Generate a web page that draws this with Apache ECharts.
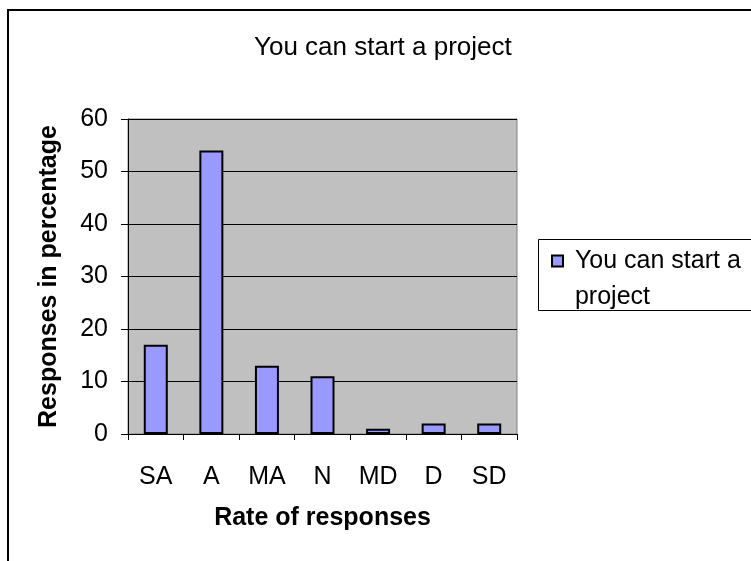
<!DOCTYPE html>
<html>
<head>
<meta charset="utf-8">
<script src="https://cdn.jsdelivr.net/npm/echarts@6/dist/echarts.min.js"></script>
<style>
  html, body { margin: 0; padding: 0; background: #fff; }
  #chart { width: 751px; height: 561px; }
</style>
</head>
<body>
<div id="chart"></div>
<script>
var categories = ['SA', 'A', 'MA', 'N', 'MD', 'D', 'SD'];
var values = [17, 54, 13, 11, 1, 2, 2];
var seriesName = 'You can start a project';
var yTicks = { min: 0, max: 60, interval: 10 };

var font = 'Liberation Sans, Arial, sans-serif';
var chart = echarts.init(document.getElementById('chart'));

chart.setOption({
    backgroundColor: '#fff',
    textStyle: { fontFamily: font },
    title: {
        text: seriesName,
        left: 254,
        top: 35,
        padding: 0,
        textStyle: { fontSize: 26, fontWeight: 'normal', color: '#000', fontFamily: font }
    },
    grid: {
        left: 128, top: 119, width: 389, height: 315,
        show: true, backgroundColor: '#c0c0c0', borderColor: '#808080', borderWidth: 1
    },
    legend: {
        data: [seriesName],
        left: 551,
        top: 207,
        padding: 0,
        icon: 'rect',
        itemWidth: 11,
        itemHeight: 11,
        itemGap: 0,
        // empty first line keeps the first text line level with the swatch
        formatter: function () { return ' \n You can start a\n project'; },
        textStyle: { fontSize: 25, color: '#000', lineHeight: 36, fontFamily: font }
    },
    xAxis: {
        type: 'category',
        data: categories,
        name: 'Rate of responses',
        nameLocation: 'middle',
        nameGap: 72,
        nameTextStyle: { fontSize: 25, fontWeight: 'bold', color: '#000', fontFamily: font },
        axisLine: { lineStyle: { color: '#000', width: 1 } },
        axisTick: { show: true, length: 6, lineStyle: { color: '#000' } },
        axisLabel: { fontSize: 25, color: '#000', margin: 31, fontFamily: font },
        splitLine: { show: false }
    },
    yAxis: {
        type: 'value',
        min: yTicks.min,
        max: yTicks.max,
        interval: yTicks.interval,
        name: 'Responses in percentage',
        nameLocation: 'middle',
        nameRotate: 90,
        nameGap: 66,
        nameTextStyle: { fontSize: 25, fontWeight: 'bold', color: '#000', fontFamily: font },
        axisLine: { show: true, lineStyle: { color: '#000', width: 1 } },
        axisTick: { show: true, length: 7, lineStyle: { color: '#000' } },
        axisLabel: { fontSize: 25, color: '#000', margin: 20, fontFamily: font },
        splitLine: { show: true, lineStyle: { color: '#000', width: 1 } }
    },
    series: [{
        name: seriesName,
        type: 'bar',
        data: values,
        barWidth: 24,
        itemStyle: { color: '#9999ff', borderColor: '#000', borderWidth: 2 }
    }],
    graphic: [
        {
            type: 'rect',
            shape: { x: 8, y: 10, width: 800, height: 600 },
            style: { fill: 'none', stroke: '#000', lineWidth: 2 },
            silent: true
        },
        {
            type: 'rect',
            shape: { x: 538.5, y: 239.5, width: 300, height: 71 },
            style: { fill: 'none', stroke: '#000', lineWidth: 1 },
            silent: true
        }
    ]
});
</script>
</body>
</html>
